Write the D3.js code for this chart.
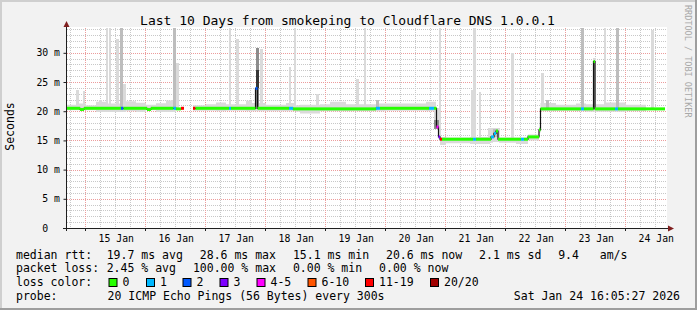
<!DOCTYPE html>
<html><head><meta charset="utf-8">
<script src="https://cdn.jsdelivr.net/npm/d3@7"></script>
<style>
html,body{margin:0;padding:0;background:#f2f2f2;}
svg{display:block;}
text{font-family:"DejaVu Sans Mono",monospace;white-space:pre;}
</style></head><body>
<svg id="c" width="697" height="310"></svg>
<script>
// ---------------- DATA ----------------
const startTime = new Date(2026, 0, 14, 16, 5, 27);
const endTime = new Date(2026, 0, 24, 16, 5, 27);
const title = "Last 10 Days from smokeping to Cloudflare DNS 1.0.0.1";
const yTicks = [0, 5, 10, 15, 20, 25, 30];
const yTickLabels = ["0  ", "5 m", "10 m", "15 m", "20 m", "25 m", "30 m"];
const xLabels = ["15 Jan","16 Jan","17 Jan","18 Jan","19 Jan","20 Jan","21 Jan","22 Jan","23 Jan","24 Jan"];

// median rtt step series: [hours since start, ms, lost pings of 20]
const medianPts = [
 [0, 20.5, 0], [5.6, 20.3, 0], [7.2, 20.5, 0], [22.0, 20.5, 2], [23.0, 20.5, 0],
 [32.4, 20.3, 0], [34.0, 20.5, 0], [43.0, 20.5, 1], [44.0, 20.4, 0], [46.0, 20.5, 12],
 [47.2, null, null],
 [50.8, 20.5, 12], [51.8, 20.5, 0], [65.2, 20.5, 1], [66.0, 20.5, 0], [75.8, 23.9, 2],
 [76.6, 20.5, 0], [89.2, 20.5, 1], [90.8, 20.4, 0], [124.0, 20.5, 1], [125.6, 20.5, 0],
 [145.2, 20.5, 1], [147.2, 20.5, 0], [148.2, 17.3, 4], [149.0, 15.6, 3], [149.6, 15.2, 12],
 [150.4, 15.2, 0], [162.8, 15.2, 1], [164.0, 15.2, 0], [170.0, 15.6, 1], [171.2, 16.2, 1],
 [172.0, 16.6, 0], [172.8, 15.2, 0], [182.0, 15.2, 1], [183.2, 15.2, 0], [184.8, 15.6, 0],
 [189.2, 16.8, 0], [189.8, 20.4, 0], [206.0, 20.4, 1], [207.2, 20.4, 0], [211.0, 28.5, 0],
 [211.6, 20.4, 0], [219.6, 20.4, 1], [220.8, 20.4, 0], [239.6, 20.4, 0]
];

// general smoke band: [hours since start, low ms, high ms]
const smokeBand = [
 [0, 20.15, 21.1], [4, 20.15, 21.3], [8, 20.15, 21.0], [12, 19.85, 21.6], [16, 19.85, 21.3],
 [20, 19.85, 21.3], [24, 20.0, 21.7], [28, 19.85, 21.45], [32, 20.15, 21.1], [36, 19.85, 21.35],
 [40, 19.85, 21.85], [44, 20.15, 21.3], [47.2, null, null],
 [50.8, 20.1, 21.0], [56, 20.1, 21.2], [60, 20.0, 21.5], [64, 20.1, 21.2], [72, 20.0, 21.8],
 [74.4, 20.0, 21.4], [80, 20.0, 21.1], [88, 20.0, 21.4], [92, 19.9, 21.0], [93.6, 19.6, 21.1],
 [101.6, 20.0, 21.2], [105.6, 20.0, 21.6], [112, 20.0, 21.2], [124, 20.0, 21.3], [128, 20.1, 21.3],
 [144, 20.0, 21.6], [148, 17.0, 18.0], [149.2, 15.0, 15.8], [149.6, 14.2, 15.6], [152, 14.5, 15.5],
 [161.6, 14.4, 15.6], [169.6, 14.6, 16.2], [170.8, 15.0, 17.0], [173.2, 14.6, 15.5], [180, 14.4, 15.5],
 [184.8, 15.0, 16.0], [189.2, 16.3, 17.3], [189.8, 20.0, 21.4], [196, 20.1, 21.1], [204, 20.0, 21.3],
 [208, 19.9, 21.2], [216, 19.9, 21.5], [224, 20.0, 21.1], [232, 20.0, 21.3], [239.6, null, null]
];

// smoke spikes: [hours since start, duration hours, low ms, high ms, shade level]
const smokeSpikes = [
 [4.0, 1.0, 20.5, 23.6, 0], [6.8, 0.8, 20.5, 23.4, 0], [13.2, 1.2, 20.5, 21.9, 0],
 [15.8, 1.0, 20.5, 36, 0], [17.2, 0.8, 20.5, 36, 0], [19.8, 1.2, 20.5, 32.4, 0],
 [21.4, 1.2, 20.5, 36, 1], [22.6, 1.4, 20.5, 24.7, 0],
 [42.0, 0.8, 20.5, 21.9, 0], [42.8, 1.2, 20.5, 36, 1], [44.0, 1.2, 20.5, 28.2, 0],
 [65.0, 1.0, 20.5, 36, 0], [67.8, 1.2, 20.5, 32.4, 0],
 [75.8, 1.2, 20.3, 30.8, 2], [75.8, 1.2, 23.9, 27.1, 3],
 [77.4, 1.2, 20.5, 30.7, 0], [89.2, 0.8, 20.5, 27.6, 0], [91.0, 0.8, 20.5, 36, 0],
 [100.0, 1.2, 20.5, 22.9, 0], [116.0, 1.2, 20.5, 25.5, 0], [119.2, 0.8, 20.5, 36, 0],
 [124.0, 1.2, 20.5, 22.0, 1],
 [147.2, 1.8, 17.0, 20.5, 0], [147.2, 1.8, 17.0, 18.5, 2], [149.0, 1.0, 15.0, 36, 0],
 [161.8, 2.2, 15.0, 23.6, 0], [162.8, 1.2, 15.0, 36, 0], [165.0, 1.0, 15.0, 23.3, 0],
 [168.8, 4.8, 14.8, 17.1, 0], [170.8, 2.0, 15.5, 16.9, 1],
 [178.0, 1.2, 15.0, 29.9, 0], [190.0, 1.2, 20.4, 26.5, 0], [192.0, 1.2, 20.4, 21.9, 1],
 [205.8, 1.4, 20.4, 36, 1], [210.8, 1.2, 20.4, 29.1, 0], [215.0, 1.0, 20.4, 36, 0],
 [219.8, 1.2, 20.4, 36, 1], [234.0, 1.0, 20.4, 33.9, 0]
];

const lossLabels = ["0", "1", "2", "3", "4-5", "6-10", "11-19", "20/20"];
const lossColors = ["#26ff00", "#00b8ff", "#0059ff", "#7e00ff", "#ff00ff", "#ff5500", "#ff0000", "#a10000"];
const lossUpper = [0, 1, 2, 3, 5, 10, 19, 20];

const rttValues = [19.7, 28.6, 15.1, 20.6, 2.1];
const rttNames = ["avg", "max", "min", "now", "sd"];
const amsValue = 9.4;
const lossValues = [2.45, 100.00, 0.00, 0.00];
const lossNames = ["avg", "max", "min", "now"];
const probeText = "20 ICMP Echo Pings (56 Bytes) every 300s";
const stampText = "Sat Jan 24 16:05:27 2026";

// ---------------- LAYOUT ----------------
const W = 697, H = 310;
const L = 66, R = 666, T = 28, B = 228;
const smokeShades = ["#dadada", "#bdbdbd", "#8c8c8c", "#353535"];
const svg = d3.select("#c");
const hd = h => new Date(startTime.getTime() + h * 3600e3);
const x = d3.scaleTime().domain([startTime, endTime]).range([L, R]);
const y = d3.scaleLinear().domain([0, 34.25]).range([B, T]);
const lossColor = n => lossColors[lossUpper.findIndex(u => n <= u)];

svg.append("rect").attr("width", W).attr("height", H).attr("fill", "#f2f2f2");
svg.append("rect").attr("width", W).attr("height", 2).attr("fill", "#cfcfcf");
svg.append("rect").attr("width", 2).attr("height", H).attr("fill", "#cfcfcf");
svg.append("rect").attr("x", W - 2).attr("width", 2).attr("height", H).attr("fill", "#9e9e9e");
svg.append("rect").attr("y", H - 2).attr("width", W).attr("height", 2).attr("fill", "#9e9e9e");

svg.append("rect").attr("x", L).attr("y", T - 1).attr("width", R - L + 1).attr("height", B - T + 1).attr("fill", "#ffffff");

svg.append("clipPath").attr("id", "clip").append("rect")
  .attr("x", L).attr("y", T).attr("width", R - L).attr("height", B - T);

// grid (under the data)
const grid = svg.append("g");
const hGrid = d3.range(1, 35);
grid.selectAll("line.h").data(hGrid).join("line")
  .attr("x1", L + 1).attr("x2", R + 1)
  .attr("y1", d => Math.round(y(d)) + 0.5).attr("y2", d => Math.round(y(d)) + 0.5)
  .attr("stroke", d => d % 5 === 0 ? "#ec9c9c" : "#c8c8c8")
  .attr("stroke-dasharray", "1,1");
const vGrid = d3.timeHour.every(6).range(startTime, endTime);
grid.selectAll("line.v").data(vGrid).join("line")
  .attr("y1", T).attr("y2", B)
  .attr("x1", d => Math.floor(x(d)) + 0.5).attr("x2", d => Math.floor(x(d)) + 0.5)
  .attr("stroke", d => d.getHours() === 0 ? "#ec9c9c" : "#c8c8c8")
  .attr("stroke-dasharray", "1,1");

const plot = svg.append("g").attr("clip-path", "url(#clip)");

// smoke
const band = d3.area().defined(d => d[1] != null).curve(d3.curveStepAfter)
  .x(d => x(hd(d[0]))).y0(d => y(d[1])).y1(d => y(d[2]));
plot.append("path").datum(smokeBand).attr("d", band).attr("fill", smokeShades[0]);
plot.selectAll("rect.spike").data(smokeSpikes).join("rect").attr("class", "spike")
  .attr("x", d => x(hd(d[0]))).attr("width", d => x(hd(d[0] + d[1])) - x(hd(d[0])))
  .attr("y", d => y(d[3])).attr("height", d => y(d[2]) - y(d[3]))
  .attr("fill", d => smokeShades[d[4]]).attr("shape-rendering", "crispEdges");

// median line (black) and loss-coloured band
const medLine = d3.line().defined(d => d[1] != null).curve(d3.curveStepAfter)
  .x(d => x(hd(d[0]))).y(d => y(d[1]));
plot.append("path").datum(medianPts).attr("d", medLine)
  .attr("fill", "none").attr("stroke", "#111").attr("stroke-width", 1.2);
const segs = medianPts.slice(0, -1).map((d, i) => [d, medianPts[i + 1]]).filter(s => s[0][1] != null);
plot.selectAll("rect.med").data(segs).join("rect").attr("class", "med")
  .attr("x", s => x(hd(s[0][0]))).attr("width", s => x(hd(s[1][0])) - x(hd(s[0][0])))
  .attr("y", s => y(s[0][1]) - 1.5).attr("height", 3)
  .attr("fill", s => lossColor(s[0][2]));

// axes
const axisCol = "#1f1f1f", arrowCol = "#801f1f";
const yAx = svg.append("g").attr("transform", `translate(${L + 0.5},0)`)
  .call(d3.axisLeft(y).tickValues(yTicks).tickFormat((d, i) => yTickLabels[i]).tickSize(3).tickPadding(3.5).tickSizeOuter(0));
yAx.select(".domain").remove();
yAx.selectAll("line").attr("stroke", axisCol);
yAx.selectAll("text").attr("font-size", "9.8px").attr("fill", "#000").attr("font-family", "DejaVu Sans Mono");

const noons = xLabels.map((t, i) => new Date(2026, 0, 15 + i, 12, 0, 0));
const xAx = svg.append("g").attr("transform", `translate(0,${B + 0.5})`)
  .call(d3.axisBottom(x).tickValues(noons).tickFormat((d, i) => xLabels[i]).tickSize(0).tickSizeOuter(0));
xAx.select(".domain").remove();
xAx.selectAll("text").attr("y", 6.5).attr("font-size", "9.8px").attr("fill", "#000").attr("font-family", "DejaVu Sans Mono");
const mids = d3.timeDay.range(startTime, endTime);
svg.selectAll("line.xt").data(mids).join("line")
  .attr("x1", d => Math.floor(x(d)) + 0.5).attr("x2", d => Math.floor(x(d)) + 0.5)
  .attr("y1", B).attr("y2", B + 3).attr("stroke", axisCol);

svg.append("line").attr("x1", L + 0.5).attr("x2", L + 0.5).attr("y1", B + 3).attr("y2", T - 2).attr("stroke", axisCol);
svg.append("line").attr("x1", L - 3).attr("x2", R + 3).attr("y1", B + 0.5).attr("y2", B + 0.5).attr("stroke", axisCol);
svg.append("path").attr("d", `M${L - 2.5},${T - 1}L${L + 3.5},${T - 1}L${L + 0.5},${T - 7}Z`).attr("fill", arrowCol);
svg.append("path").attr("d", `M${R + 2},${B - 2.5}L${R + 2},${B + 3.5}L${R + 8},${B + 0.5}Z`).attr("fill", arrowCol);

// title & labels
svg.append("text").attr("x", 347.5).attr("y", 24.5).attr("text-anchor", "middle")
  .attr("font-size", "13px").text(title);
svg.append("text").attr("transform", "translate(14,126.5) rotate(-90)").attr("text-anchor", "middle")
  .attr("font-size", "11.5px").text("Seconds");
svg.append("text").attr("transform", "translate(685,5) rotate(90)").attr("text-anchor", "start")
  .attr("font-size", "8.5px").attr("fill", "#a8a8a8").text("RRDTOOL / TOBI OETIKER");

// legend
const lg = svg.append("g").attr("font-size", "11.5px");
const rowY = [258.7, 272.0, 286.3, 300.0];
const rttX = [106.7, 199.8, 292.9, 386.0, 479.1];
lg.append("text").attr("x", 16).attr("y", rowY[0]).text("median rtt:");
rttValues.forEach((v, i) => lg.append("text").attr("x", rttX[i]).attr("y", rowY[0]).text(`${v.toFixed(1)} ms ${rttNames[i]}`));
lg.append("text").attr("x", 558.2).attr("y", rowY[0]).text(`${amsValue.toFixed(1)}   am/s`);
const lossX = [106.7, 192.9, 292.9, 379.1];
lg.append("text").attr("x", 16).attr("y", rowY[1]).text("packet loss:");
lossValues.forEach((v, i) => lg.append("text").attr("x", lossX[i]).attr("y", rowY[1]).text(`${v.toFixed(2)} % ${lossNames[i]}`));
lg.append("text").attr("x", 16).attr("y", rowY[2]).text("loss color:");
const swX = [108.5, 146, 182.5, 219.5, 256.5, 307.5, 365, 430];
lossLabels.forEach((t, i) => {
  lg.append("rect").attr("x", swX[i] + 0.5).attr("y", 278.5).attr("width", 8).attr("height", 8)
    .attr("fill", lossColors[i]).attr("stroke", "#000").attr("stroke-width", 1);
  lg.append("text").attr("x", swX[i] + 14).attr("y", rowY[2]).text(t);
});
lg.append("text").attr("x", 16).attr("y", rowY[3]).text("probe:");
lg.append("text").attr("x", 107.6).attr("y", rowY[3]).text(probeText);
lg.append("text").attr("x", 680).attr("y", rowY[3]).attr("text-anchor", "end").text(stampText);
</script>
</body></html>
